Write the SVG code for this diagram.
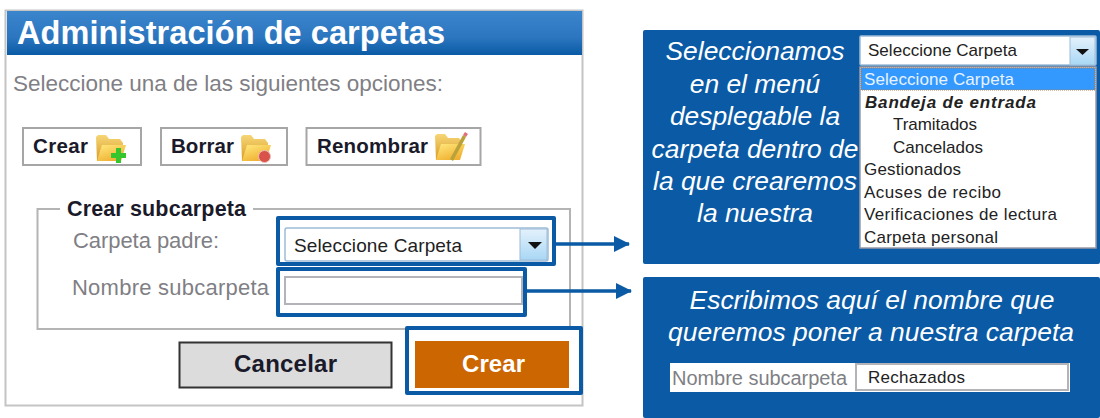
<svg xmlns="http://www.w3.org/2000/svg" width="1100" height="418" viewBox="0 0 1100 418">
<style>
text{font-family:"Liberation Sans",Arial,sans-serif}
.blue{fill:#0a5aa5}
.hl{fill:none;stroke:#0a5aa5;stroke-width:4;stroke-linejoin:round}
.btn{fill:#fff;stroke:#a6a6a6;stroke-width:2}
.btxt{font-weight:bold;font-size:20.5px;fill:#1a1a2a}
.lbl{font-size:22px;fill:#7f7f85}
.item{font-size:17px;fill:#222}
.note{font-size:26.4px;font-style:italic;fill:#fff;text-anchor:middle}
.conn{fill:none;stroke:#0a5aa5;stroke-width:3.5}
.sel{fill:#fff;stroke:#9dbcd8;stroke-width:1.5}
.inp{fill:#fff;stroke:#b4b4b8;stroke-width:2}
</style>
<defs>
<linearGradient id="hdr" x1="0" y1="0" x2="0" y2="1"><stop offset="0" stop-color="#3a85cc"/><stop offset="0.6" stop-color="#2c76bf"/><stop offset="1" stop-color="#0a5aa5"/></linearGradient>
<linearGradient id="arr" x1="0" y1="0" x2="0" y2="1"><stop offset="0" stop-color="#e4f1fb"/><stop offset="1" stop-color="#a9d7f5"/></linearGradient>
<linearGradient id="foldb" x1="0" y1="0" x2="0" y2="1"><stop offset="0" stop-color="#f6d675"/><stop offset="1" stop-color="#d99a25"/></linearGradient>
<linearGradient id="foldf" x1="0" y1="0" x2="0.6" y2="1"><stop offset="0" stop-color="#ffe97f"/><stop offset="1" stop-color="#f0b030"/></linearGradient>
<marker id="ah" markerUnits="userSpaceOnUse" markerWidth="16" markerHeight="16" refX="15" refY="8" orient="auto"><path d="M0 0L16 8L0 16Z" fill="#0a5aa5"/></marker>
<g id="folder"><path d="M0 2L2 0H10L13 4H24L27 8V12L24 26H1Z" fill="url(#foldb)"/><path d="M1 26L6 10H30L25 26Z" fill="url(#foldf)"/></g>
</defs>

<g id="panel">
<rect x="5.500" y="10.500" width="577" height="395" fill="#fff" stroke="#c4c4c4" stroke-width="2"/>
<rect x="7" y="11" width="575" height="44" fill="url(#hdr)"/>
<text x="17" y="44" font-size="32.500" font-weight="bold" fill="#fff" textLength="428">Administración de carpetas</text>
<text x="13" y="91" font-size="22.500" fill="#7f7f85" textLength="430">Seleccione una de las siguientes opciones:</text>
</g>

<g id="btn-crear">
<rect class="btn" x="23" y="128" width="118" height="37"/>
<text class="btxt" x="33" y="153" textLength="55">Crear</text>
<use href="#folder" x="96" y="135"/>
<path d="M116 148h5v5h5v5h-5v5h-5v-5h-5v-5h5z" fill="#35c52c"/>
</g>
<g id="btn-borrar">
<rect class="btn" x="161" y="128" width="126" height="37"/>
<text class="btxt" x="171" y="153" textLength="63">Borrar</text>
<use href="#folder" x="241" y="135"/>
<circle cx="264.500" cy="156.500" r="6" fill="#d9534a" stroke="#e8c0b8"/>
</g>
<g id="btn-renombrar">
<rect class="btn" x="306.500" y="128" width="174" height="37"/>
<text class="btxt" x="317" y="153" textLength="111">Renombrar</text>
<use href="#folder" x="435" y="134"/>
<path d="M450 159L463 135L466 137L453 161Z" fill="#b9a23a"/>
<path d="M463 135L465 132L468 134L466 137Z" fill="#e0707a"/>
</g>

<g id="fieldset">
<path d="M60 209H37.500V329H570V209H253" fill="none" stroke="#b4b4b4" stroke-width="2"/>
<text x="67" y="216" font-size="21.500" font-weight="bold" fill="#1a1a2a" textLength="179">Crear subcarpeta</text>
<text class="lbl" x="73" y="248" textLength="146">Carpeta padre:</text>
<text class="lbl" x="72" y="295" textLength="197">Nombre subcarpeta</text>
</g>

<g id="select-padre">
<rect class="sel" x="285" y="228" width="263" height="33" rx="2"/>
<rect x="520" y="229" width="27" height="31" fill="url(#arr)" stroke="#9dbcd8"/>
<path d="M528 242H542L535 249Z" fill="#111"/>
<text x="294" y="252" font-size="19px" fill="#222" textLength="168">Seleccione Carpeta</text>
</g>
<g id="input-nombre"><rect class="inp" x="285" y="277" width="237" height="27"/></g>

<g id="btn-cancelar">
<rect x="179.500" y="342.500" width="212" height="45" fill="#dcdcdc" stroke="#333" stroke-width="2"/>
<text x="234" y="372" font-size="24" font-weight="bold" fill="#1a1a2a" textLength="103">Cancelar</text>
</g>
<g id="btn-crear-submit">
<rect x="415" y="341" width="154" height="47" fill="#cc6600"/>
<text x="462" y="372" font-size="24" font-weight="bold" fill="#fff" textLength="63">Crear</text>
</g>

<g id="highlights">
<rect class="hl" x="278" y="218" width="276" height="46"/>
<rect class="hl" x="278" y="269" width="247" height="46"/>
<rect class="hl" x="407" y="328" width="174" height="65"/>
</g>

<g id="connectors">
<path class="conn" d="M554 244H629" marker-end="url(#ah)"/>
<path class="conn" d="M526 291H631" marker-end="url(#ah)"/>
</g>

<g id="note-1">
<rect class="blue" x="643" y="30" width="457" height="234" rx="2"/>
<text class="note" x="755" y="60">Seleccionamos</text>
<text class="note" x="755" y="93">en el menú</text>
<text class="note" x="755" y="125">desplegable la</text>
<text class="note" x="755" y="158">carpeta dentro de</text>
<text class="note" x="755" y="190">la que crearemos</text>
<text class="note" x="755" y="222">la nuestra</text>
<rect class="sel" x="860" y="36" width="236" height="29" rx="1"/>
<rect x="1070" y="37" width="25" height="28" fill="url(#arr)" stroke="#9dbcd8"/>
<path d="M1076 49H1089L1082.500 55Z" fill="#111"/>
<text x="868" y="56" font-size="17px" fill="#222" textLength="149">Seleccione Carpeta</text>
<rect x="860" y="67" width="236" height="181" fill="#fff" stroke="#9a9aa8" stroke-width="1.500"/>
<rect x="861" y="68" width="234" height="22" fill="#3399ff" stroke="#b87a3a" stroke-dasharray="1 1"/>
<text class="item" x="864" y="85" style="fill:#e8f3ff" textLength="150">Seleccione Carpeta</text>
<text class="item" x="865" y="108" font-weight="bold" font-style="italic" textLength="171">Bandeja de entrada</text>
<text class="item" x="893" y="130" textLength="84">Tramitados</text>
<text class="item" x="893" y="153" textLength="90">Cancelados</text>
<text class="item" x="864" y="175" textLength="97">Gestionados</text>
<text class="item" x="864" y="198" textLength="137">Acuses de recibo</text>
<text class="item" x="864" y="220" textLength="193">Verificaciones de lectura</text>
<text class="item" x="864" y="243" textLength="134">Carpeta personal</text>
</g>

<g id="note-2">
<rect class="blue" x="643" y="277" width="457" height="141" rx="2"/>
<text class="note" x="872" y="309" textLength="365">Escribimos aquí el nombre que</text>
<text class="note" x="871" y="341" textLength="406">queremos poner a nuestra carpeta</text>
<rect x="670" y="363" width="400" height="29" fill="#fff"/>
<text x="672" y="385" font-size="20px" fill="#7f7f85" textLength="175">Nombre subcarpeta</text>
<rect class="inp" x="856" y="364" width="212" height="26"/>
<text x="868" y="383" font-size="17px" fill="#222" textLength="97">Rechazados</text>
</g>
</svg>
